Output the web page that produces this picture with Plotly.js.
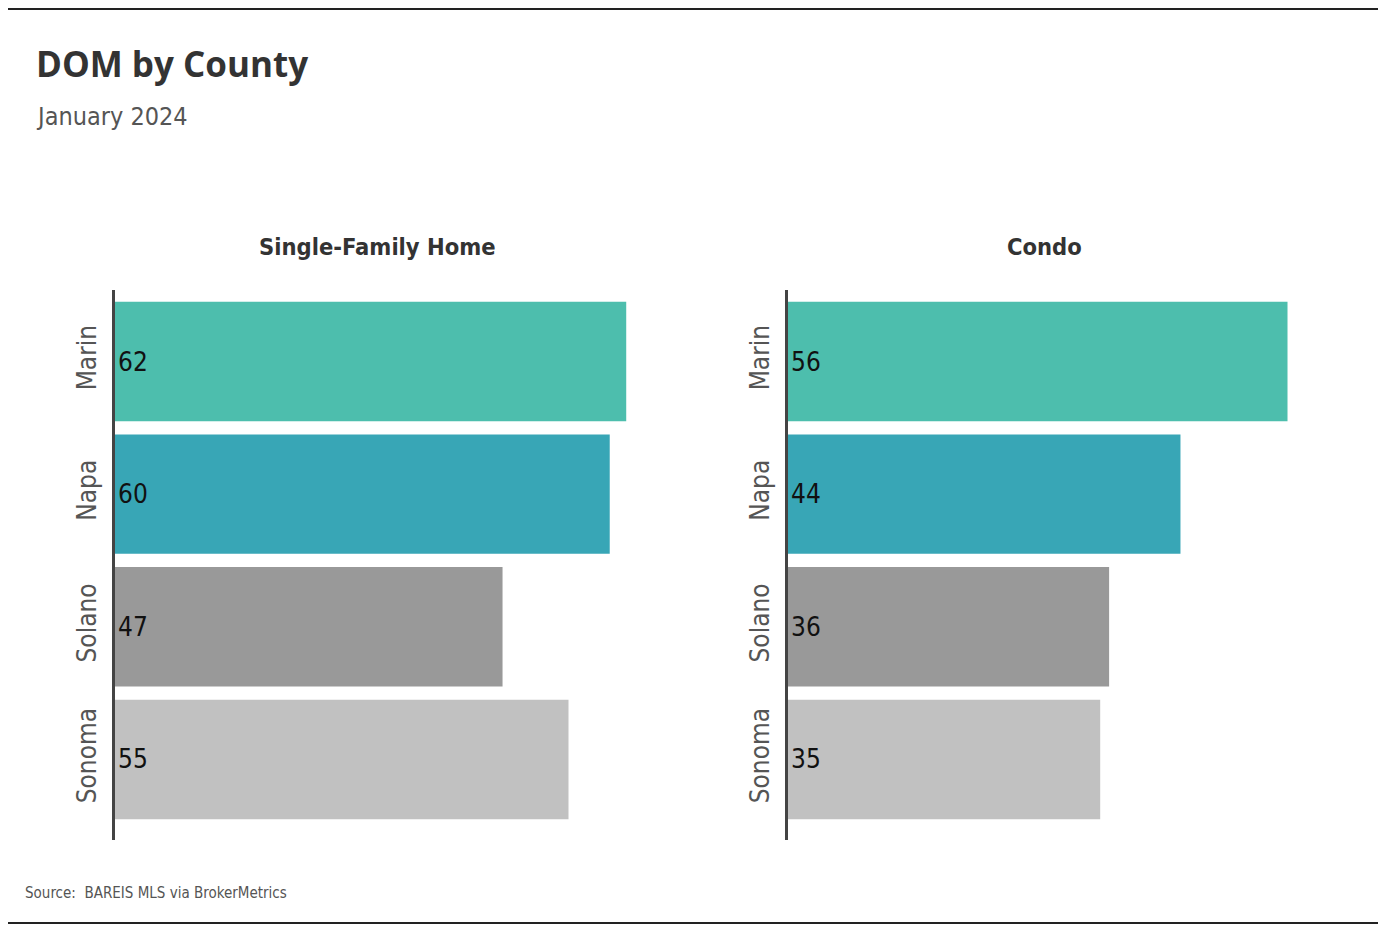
<!DOCTYPE html>
<html>
<head>
<meta charset="utf-8">
<script src="https://cdn.plot.ly/plotly-3.0.1.min.js"></script>
<style>
html,body{margin:0;padding:0;background:#fff;}
#chart{width:1386px;height:938px;}
</style>
</head>
<body>
<div id="chart"></div>
<script>
const counties = ["Marin", "Napa", "Solano", "Sonoma"];
const sfhValues = [62, 60, 47, 55];
const condoValues = [56, 44, 36, 35];
const barColors = ["#4DBEAD", "#38A6B6", "#999999", "#C1C1C1"];
const panelTitles = ["Single-Family Home", "Condo"];

const W = 1386, H = 938;
const NARROW = '"DejaVu Sans Condensed", "Roboto", sans-serif';
const BOLD = '"Open Sans", "Noto Sans", sans-serif';

function px(x){ return x / W; }
function py(y){ return 1 - y / H; }

const common = {
  type: 'bar',
  orientation: 'h',
  y: counties,
  textposition: 'inside',
  insidetextanchor: 'start',
  textangle: 0,
  insidetextfont: {family: NARROW, size: 26, color: '#111'},
  marker: {color: barColors},
  width: 0.9,
  hoverinfo: 'x+y',
  cliponaxis: false
};

const traces = [
  Object.assign({}, common, {x: sfhValues, text: sfhValues.map(String), xaxis: 'x', yaxis: 'y'}),
  Object.assign({}, common, {x: condoValues, text: condoValues.map(String), xaxis: 'x2', yaxis: 'y2'})
];

const d1 = [px(115), px(639)];
const d2 = [px(788), px(1300)];
const yd = [py(840), py(290)];

function yax(anchor){
  return {
    domain: yd, anchor: anchor, type: 'category',
    range: [3.607, -0.539],
    showline: true, linecolor: '#444', linewidth: 3,
    showgrid: false, zeroline: false, ticks: '',
    tickangle: -90,
    tickfont: {family: NARROW, size: 26, color: '#555'},
    ticklabelstandoff: 6
  };
}
function xax(domain, anchor, maxv){
  return {
    domain: domain, anchor: anchor,
    range: [0, maxv * 1.025],
    showline: false, showgrid: false, zeroline: false,
    showticklabels: false, ticks: ''
  };
}

const layout = {
  width: W, height: H,
  margin: {l: 0, r: 0, t: 0, b: 0},
  paper_bgcolor: '#fff', plot_bgcolor: '#fff',
  showlegend: false,
  bargap: 0.1,
  xaxis: xax(d1, 'y', Math.max(...sfhValues)),
  yaxis: yax('x'),
  xaxis2: xax(d2, 'y2', Math.max(...condoValues)),
  yaxis2: yax('x2'),
  shapes: [
    {type: 'line', xref: 'paper', yref: 'paper', x0: px(8), x1: px(1378), y0: py(9), y1: py(9), line: {color: '#222', width: 2}},
    {type: 'line', xref: 'paper', yref: 'paper', x0: px(8), x1: px(1378), y0: py(923), y1: py(923), line: {color: '#222', width: 2}}
  ],
  annotations: [
    {text: '<b>DOM by County</b>', xref: 'paper', yref: 'paper', x: px(34), y: py(64), xanchor: 'left', yanchor: 'middle', showarrow: false,
     font: {family: BOLD, size: 35, color: '#333'}},
    {text: 'January 2024', xref: 'paper', yref: 'paper', x: px(34), y: py(116), xanchor: 'left', yanchor: 'middle', showarrow: false,
     font: {family: NARROW, size: 25, color: '#555'}},
    {text: '<b>' + panelTitles[0] + '</b>', xref: 'paper', yref: 'paper', x: (d1[0] + d1[1]) / 2, y: py(247), xanchor: 'center', yanchor: 'middle', showarrow: false,
     font: {family: NARROW, size: 23.5, color: '#333'}},
    {text: '<b>' + panelTitles[1] + '</b>', xref: 'paper', yref: 'paper', x: (d2[0] + d2[1]) / 2, y: py(247), xanchor: 'center', yanchor: 'middle', showarrow: false,
     font: {family: NARROW, size: 23.5, color: '#333'}},
    {text: 'Source:  BAREIS MLS via BrokerMetrics', xref: 'paper', yref: 'paper', x: px(23), y: py(893), xanchor: 'left', yanchor: 'middle', showarrow: false,
     font: {family: NARROW, size: 15, color: '#555'}}
  ]
};

Plotly.newPlot('chart', traces, layout, {displayModeBar: false, staticPlot: true});
</script>
</body>
</html>
